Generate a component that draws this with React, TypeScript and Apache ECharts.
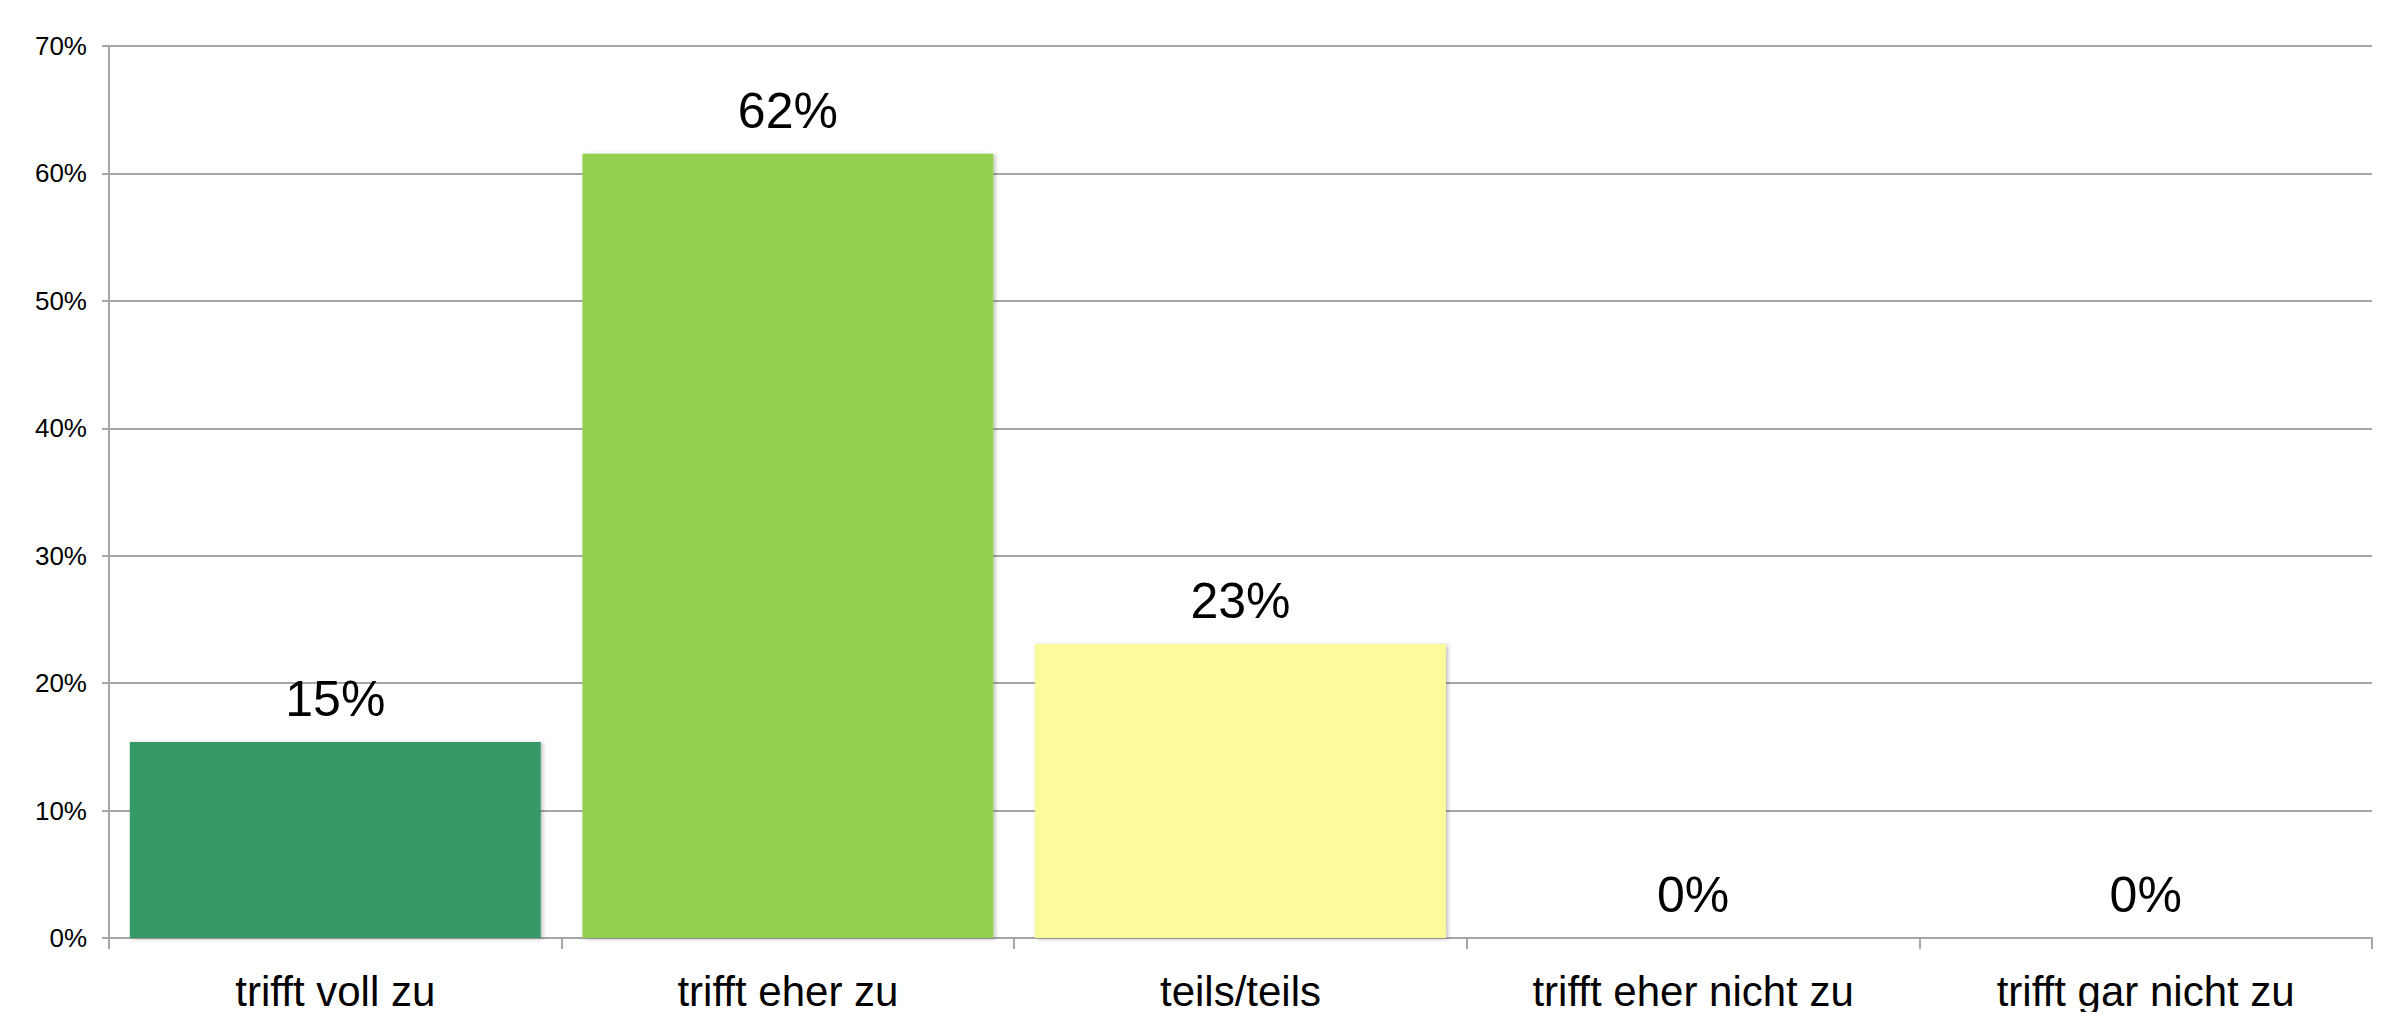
import React, { useEffect, useRef } from "react";
import * as echarts from "echarts";

const categories = [
  "trifft voll zu",
  "trifft eher zu",
  "teils/teils",
  "trifft eher nicht zu",
  "trifft gar nicht zu",
];
const values = [15.38, 61.54, 23.08, 0, 0];
const barColors = ["#349968", "#94D050", "#FBFB9B", "#C0504D", "#8B0000"];

const FONT = "'Liberation Sans', Arial, sans-serif";

export default function App() {
  const ref = useRef<HTMLDivElement>(null);
  useEffect(() => {
    if (!ref.current) return;
    const chart = echarts.init(ref.current, null, { renderer: "svg" });
    chart.setOption({
      animation: false,
      backgroundColor: "#ffffff",
      grid: { left: 109, right: 31, top: 46, bottom: 72 },
      xAxis: {
        type: "category",
        data: categories,
        axisLine: { show: true, lineStyle: { color: "#a6a6a6", width: 2 } },
        axisTick: {
          show: true,
          length: 11,
          alignWithLabel: false,
          lineStyle: { color: "#a6a6a6", width: 2 },
        },
        axisLabel: {
          margin: 32,
          color: "#000000",
          fontSize: 42,
          fontFamily: FONT,
          interval: 0,
        },
      },
      yAxis: {
        type: "value",
        min: 0,
        max: 70,
        interval: 10,
        axisLine: { show: true, lineStyle: { color: "#a6a6a6", width: 2 } },
        axisTick: { show: true, length: 7, lineStyle: { color: "#a6a6a6", width: 2 } },
        splitLine: { show: true, lineStyle: { color: "#a6a6a6", width: 2 } },
        axisLabel: {
          margin: 22,
          color: "#000000",
          fontSize: 26,
          fontFamily: FONT,
          formatter: "{value}%",
        },
      },
      series: [
        {
          type: "bar",
          barCategoryGap: "9.2%",
          data: values.map((v, i) => ({
            value: v,
            itemStyle: {
              color: barColors[i],
              shadowColor: "rgba(0,0,0,0.25)",
              shadowBlur: 4,
              shadowOffsetX: 2,
              shadowOffsetY: 1,
            },
          })),
          label: {
            show: true,
            position: "top",
            distance: 18,
            color: "#000000",
            fontSize: 50,
            fontFamily: FONT,
            formatter: (p: any) => Math.round(p.value) + "%",
          },
        },
      ],
    });
    return () => chart.dispose();
  }, []);
  return (
    <div
      ref={ref}
      style={{ position: "absolute", left: 0, top: 0, width: 2403, height: 1012 }}
    />
  );
}
